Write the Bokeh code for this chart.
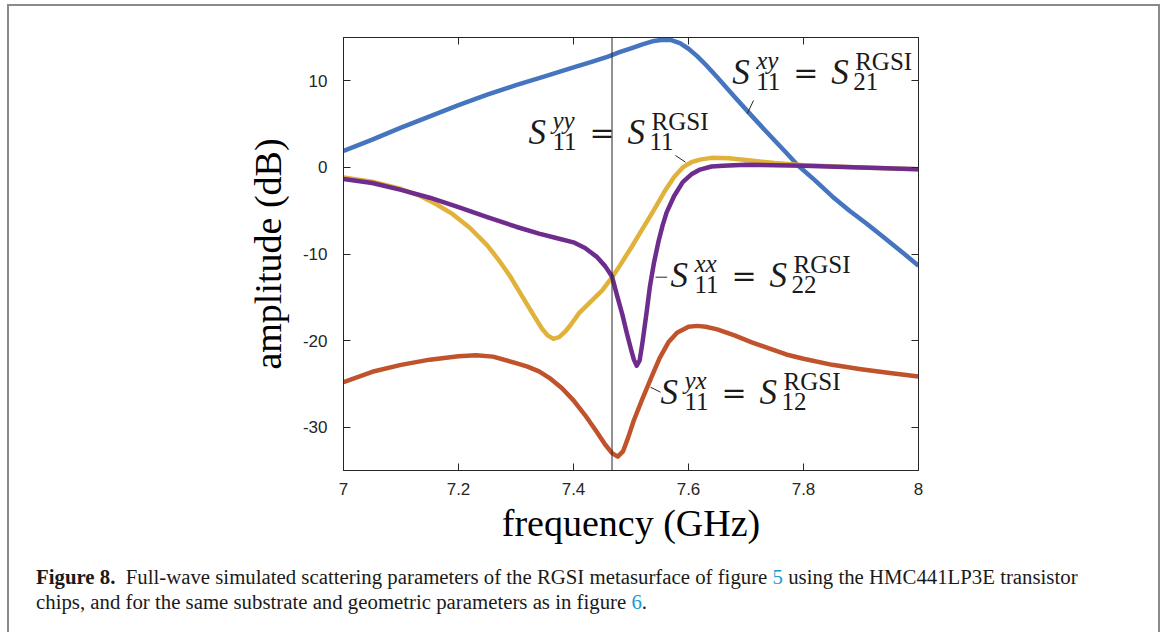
from bokeh.plotting import figure
from bokeh.layouts import column, row
from bokeh.models import Range1d, FixedTicker, LinearAxis, Span, Label, Div
from bokeh.embed import file_html
from bokeh.resources import INLINE

# ---------------- data ----------------
freq_xy = [7.00, 7.05, 7.10, 7.15, 7.20, 7.25, 7.30, 7.35, 7.40, 7.43, 7.46, 7.48, 7.50, 7.52,
           7.54, 7.555, 7.57, 7.585, 7.60, 7.615, 7.63, 7.65, 7.68, 7.71, 7.74, 7.77, 7.79,
           7.82, 7.85, 7.88, 7.91, 7.94, 7.97, 8.00]
amp_xy = [1.9, 3.2, 4.6, 5.9, 7.2, 8.4, 9.5, 10.5, 11.55, 12.15, 12.8, 13.3, 13.75, 14.2,
          14.6, 14.75, 14.7, 14.35, 13.7, 12.85, 11.85, 10.4, 8.15, 5.95, 3.8, 1.7, 0.25,
          -1.5, -3.35, -5.0, -6.5, -8.1, -9.7, -11.35]

freq_yy = [7.00, 7.05, 7.10, 7.13, 7.16, 7.19, 7.22, 7.25, 7.27, 7.29, 7.31, 7.33, 7.345,
           7.355, 7.365, 7.375, 7.385, 7.395, 7.41, 7.43, 7.45, 7.467, 7.48, 7.50, 7.52, 7.54,
           7.56, 7.575, 7.59, 7.605, 7.62, 7.64, 7.67, 7.70, 7.75, 7.80, 7.90, 8.00]
amp_yy = [-1.15, -1.65, -2.5, -3.2, -4.2, -5.4, -7.0, -9.0, -10.7, -12.6, -14.8, -17.0, -18.6,
          -19.4, -19.8, -19.6, -19.0, -18.2, -16.8, -15.5, -14.2, -12.7, -11.4, -9.3, -7.1,
          -4.9, -2.6, -1.1, 0.0, 0.6, 0.9, 1.1, 1.05, 0.85, 0.5, 0.25, 0.0, -0.2]

freq_xx = [7.00, 7.05, 7.10, 7.15, 7.20, 7.25, 7.30, 7.34, 7.37, 7.40, 7.42, 7.44, 7.455,
           7.467, 7.475, 7.485, 7.493, 7.50, 7.505, 7.51, 7.515, 7.52, 7.527, 7.533, 7.54,
           7.548, 7.555, 7.562, 7.575, 7.59, 7.605, 7.62, 7.64, 7.66, 7.70, 7.80, 7.90, 8.00]
amp_xx = [-1.35, -1.8, -2.6, -3.5, -4.6, -5.75, -6.85, -7.65, -8.15, -8.65, -9.3, -10.3, -11.4,
          -12.6, -14.6, -17.0, -19.2, -21.0, -22.2, -22.9, -22.3, -20.2, -16.8, -13.7, -11.0,
          -8.5, -6.7, -5.2, -3.3, -1.7, -0.8, -0.25, 0.1, 0.2, 0.3, 0.2, 0.0, -0.2]

freq_yx = [7.00, 7.05, 7.10, 7.15, 7.20, 7.23, 7.26, 7.30, 7.32, 7.34, 7.36, 7.38, 7.40, 7.42,
           7.44, 7.455, 7.467, 7.477, 7.486, 7.495, 7.505, 7.52, 7.535, 7.55, 7.565, 7.58,
           7.60, 7.615, 7.63, 7.65, 7.68, 7.71, 7.74, 7.77, 7.80, 7.85, 7.90, 7.95, 8.00]
amp_yx = [-24.8, -23.6, -22.8, -22.2, -21.8, -21.7, -21.85, -22.6, -23.0, -23.55, -24.4, -25.5,
          -26.9, -28.6, -30.5, -32.0, -33.0, -33.4, -32.8, -31.2, -29.2, -26.7, -24.3, -22.0,
          -20.2, -19.1, -18.4, -18.3, -18.4, -18.7, -19.4, -20.2, -20.9, -21.6, -22.1, -22.8,
          -23.3, -23.75, -24.15]

marker_freq = 7.467

x_ticks = [7, 7.2, 7.4, 7.6, 7.8, 8]
x_tick_labels = ["7", "7.2", "7.4", "7.6", "7.8", "8"]
y_ticks = [-30, -20, -10, 0, 10]
y_tick_labels = ["-30", "-20", "-10", "0", "10"]

# ---------------- layout geometry (page pixels) ----------------
W, H = 1165, 632
TOP_H, LEFT_W, RIGHT_W, CAP_H = 12, 9, 9, 84
PW, PH = W - LEFT_W - RIGHT_W, H - TOP_H - CAP_H
FL, FR, FT, FB = 343, 918, 37, 470  # frame edges, page pixels
X0, X1, Y0, Y1 = 7.0, 8.0, -35.0, 15.0
BORDER = "#8a8a8a"
DIV_STYLES = {"font-size": "0px", "line-height": "0px"}


def px2x(px):
    return X0 + (px - FL) * (X1 - X0) / (FR - FL)


def py2y(py):
    return Y0 + (FB - py) * (Y1 - Y0) / (FB - FT)


p = figure(width=PW, height=PH, x_range=Range1d(X0, X1), y_range=Range1d(Y0, Y1),
           output_backend="svg", toolbar_location=None,
           min_border_left=FL - LEFT_W, min_border_right=LEFT_W + PW - FR,
           min_border_top=FT - TOP_H, min_border_bottom=PH - (FB - TOP_H))
p.margin = 0
p.grid.visible = False
p.outline_line_color = "#262626"
p.outline_line_width = 1
p.background_fill_color = "white"
p.border_fill_color = "white"

AX = "#262626"
p.add_layout(LinearAxis(), "above")
p.add_layout(LinearAxis(), "right")

for ax in p.xaxis:
    ax.ticker = FixedTicker(ticks=x_ticks)
for ax in p.yaxis:
    ax.ticker = FixedTicker(ticks=y_ticks)
for ax in list(p.xaxis) + list(p.yaxis):
    ax.axis_line_color = AX
    ax.major_tick_line_color = AX
    ax.major_tick_in = 7
    ax.major_tick_out = 0
    ax.minor_tick_line_color = None
    ax.major_label_text_font = "Liberation Sans"
    ax.major_label_text_font_size = "17px"
    ax.major_label_text_color = AX

xb, yl = p.below[0], p.left[0]
xb.major_label_overrides = dict(zip(x_ticks, x_tick_labels))
yl.major_label_overrides = dict(zip(y_ticks, y_tick_labels))
p.above[0].major_label_overrides = {t: "" for t in x_ticks}
p.right[0].major_label_overrides = {t: "" for t in y_ticks}
xb.major_label_standoff = 12
yl.major_label_standoff = 16

xb.axis_label = "frequency (GHz)"
yl.axis_label = "amplitude (dB)"
for ax in (xb, yl):
    ax.axis_label_text_font = "Liberation Serif"
    ax.axis_label_text_font_style = "normal"
    ax.axis_label_text_font_size = "38px"
    ax.axis_label_text_color = "black"
xb.axis_label_standoff = 4
yl.axis_label_standoff = 11

# ---------------- curves ----------------
LW = 4.5
p.line(freq_xy, amp_xy, line_color="#4575BF", line_width=LW, line_join="round")
p.line(freq_yx, amp_yx, line_color="#C0532B", line_width=LW, line_join="round")
p.line(freq_yy, amp_yy, line_color="#E0B23A", line_width=LW, line_join="round")
p.line(freq_xx, amp_xx, line_color="#6E2C8C", line_width=LW, line_join="round")

p.add_layout(Span(location=marker_freq, dimension="height", line_color=AX, line_width=1))

# ---------------- curve annotations ----------------
MATH_FONT = "Liberation Serif"
LIFT = 12  # baseline correction


def math_label(px, py, sup1, sub1, sup2, sub2):
    x, y = px2x(px), py2y(py - LIFT)
    pieces = [("S", 0, 0, 35, "italic", MATH_FONT), (sup1, 24, 12, 25, "italic", MATH_FONT),
              (sub1, 24, -9, 25, "normal", MATH_FONT),
              ("=", 61, 0, 30, "normal", "DejaVu Serif"), ("S", 99, 0, 35, "italic", MATH_FONT),
              (sup2, 123, 11, 25, "normal", MATH_FONT), (sub2, 121, -9, 25, "normal", MATH_FONT)]
    for txt, dx, dy, fs, st, fnt in pieces:
        p.add_layout(Label(x=x, y=y, x_offset=dx, y_offset=dy, text=txt,
                           text_font=fnt, text_font_size=f"{fs}px", text_font_style=st,
                           text_color="#1a1a1a", text_align="left", text_baseline="alphabetic"))


math_label(731.7, 84, "xy", "11", "RGSI", "21")
math_label(528, 144, "yy", "11", "RGSI", "11")
math_label(670, 287, "xx", "11", "RGSI", "22")
math_label(660, 404, "yx", "11", "RGSI", "12")

leader_px = [((753, 100), (746.7, 113.3)), ((675, 155), (685, 161.7)),
             ((655, 276.7), (666.7, 276.7)), ((650, 386.7), (660, 391.7))]
p.segment([px2x(a[0]) for a, b in leader_px], [py2y(a[1]) for a, b in leader_px],
          [px2x(b[0]) for a, b in leader_px], [py2y(b[1]) for a, b in leader_px],
          line_color=AX, line_width=1)

# ---------------- page frame strips and caption ----------------
top_div = Div(width=W, height=TOP_H, margin=0, styles=DIV_STYLES, text=(
    f'<div style="position:relative;width:{W}px;height:{TOP_H}px;overflow:hidden;">'
    f'<div style="position:absolute;left:7px;top:4px;width:1153px;height:2px;background:{BORDER};"></div>'
    f'<div style="position:absolute;left:7px;top:4px;width:2px;height:{TOP_H}px;background:{BORDER};"></div>'
    f'<div style="position:absolute;left:1158px;top:4px;width:2px;height:{TOP_H}px;background:{BORDER};"></div>'
    '</div>'))
left_div = Div(width=LEFT_W, height=PH, margin=0, styles=DIV_STYLES, text=(
    f'<div style="position:relative;width:{LEFT_W}px;height:{PH}px;overflow:hidden;">'
    f'<div style="position:absolute;left:7px;top:0;width:2px;height:{PH}px;background:{BORDER};"></div></div>'))
right_div = Div(width=RIGHT_W, height=PH, margin=0, styles=DIV_STYLES, text=(
    f'<div style="position:relative;width:{RIGHT_W}px;height:{PH}px;overflow:hidden;">'
    f'<div style="position:absolute;left:2px;top:0;width:2px;height:{PH}px;background:{BORDER};"></div></div>'))

caption_html = (
    f'<div style="position:relative;width:{W}px;height:{CAP_H}px;overflow:hidden;">'
    f'<div style="position:absolute;left:7px;top:0;width:2px;height:{CAP_H}px;background:{BORDER};"></div>'
    f'<div style="position:absolute;left:1158px;top:0;width:2px;height:{CAP_H}px;background:{BORDER};"></div>'
    '<div style="position:absolute;left:36px;top:16px;white-space:nowrap;'
    'font-family:\'Liberation Serif\';font-size:20.8px;line-height:25px;color:#1a1a1a;">'
    '<b>Figure 8.</b>&nbsp;&nbsp;Full-wave simulated scattering parameters of the RGSI metasurface of figure '
    '<span style="color:#1a9ad6;">5</span> using the HMC441LP3E transistor<br>'
    'chips, and for the same substrate and geometric parameters as in figure '
    '<span style="color:#1a9ad6;">6</span>.</div></div>')
cap_div = Div(width=W, height=CAP_H, margin=0, styles=DIV_STYLES, text=caption_html)

layout = column(top_div, row(left_div, p, right_div, spacing=0), cap_div, spacing=0)

open("out.html", "w").write(file_html(layout, INLINE))
